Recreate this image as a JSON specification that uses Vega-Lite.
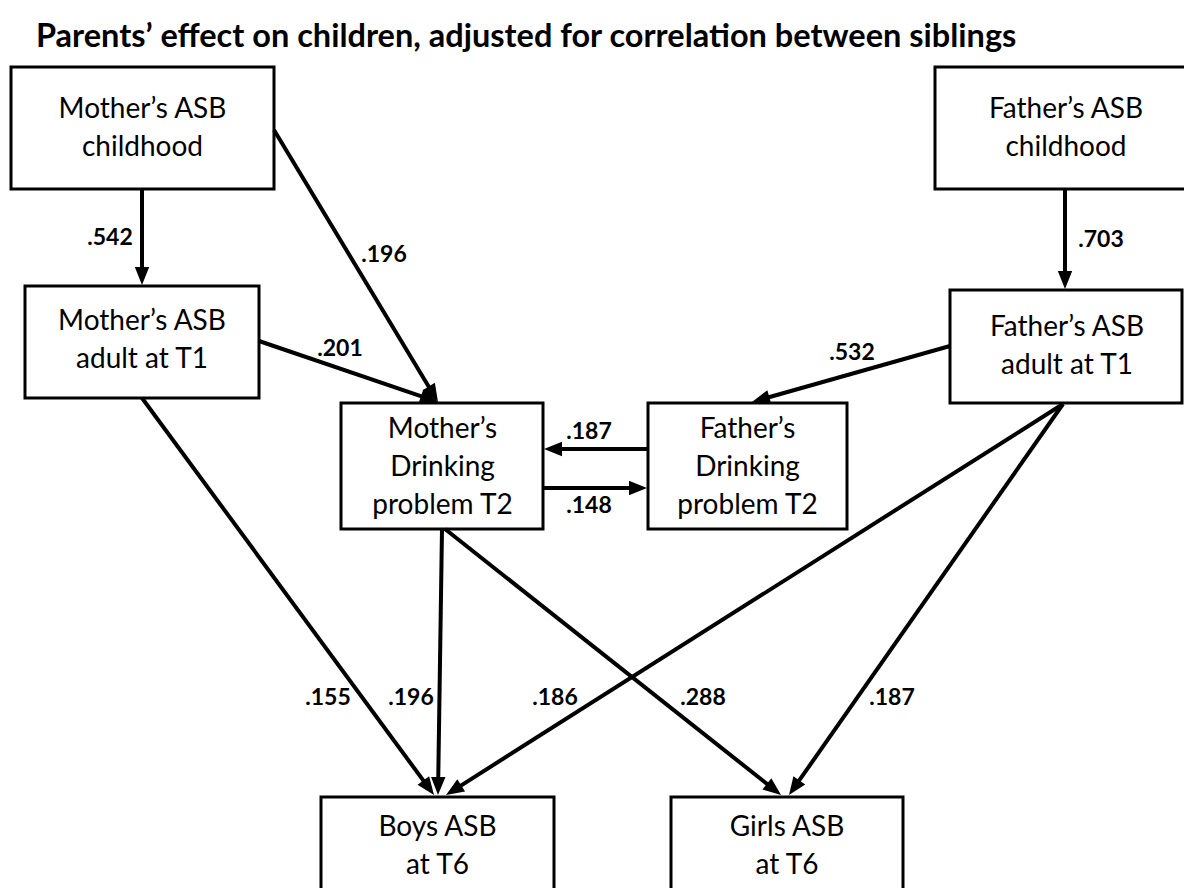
{
  "$schema": "https://vega.github.io/schema/vega-lite/v6.json",
  "width": 1184,
  "height": 888,
  "padding": 0,
  "autosize": {"type": "fit", "contains": "padding"},
  "background": "white",
  "config": {"view": {"stroke": null}},
  "datasets": {
    "boxes": [
      {"node": "Mother’s ASB childhood", "x1": 11, "x2": 274, "y1": 67, "y2": 189, "tx": 142.5, "ty": 110, "label": "Mother’s ASB\nchildhood"},
      {"node": "Father’s ASB childhood", "x1": 935, "x2": 1205, "y1": 67, "y2": 189, "tx": 1066, "ty": 110, "label": "Father’s ASB\nchildhood"},
      {"node": "Mother’s ASB adult at T1", "x1": 25, "x2": 259, "y1": 286, "y2": 398, "tx": 142, "ty": 322, "label": "Mother’s ASB\nadult at T1"},
      {"node": "Father’s ASB adult at T1", "x1": 950, "x2": 1182, "y1": 290, "y2": 403, "tx": 1067, "ty": 328, "label": "Father’s ASB\nadult at T1"},
      {"node": "Mother’s Drinking problem T2", "x1": 341, "x2": 543, "y1": 403, "y2": 529, "tx": 442.5, "ty": 430, "label": "Mother’s\nDrinking\nproblem T2"},
      {"node": "Father’s Drinking problem T2", "x1": 648, "x2": 847, "y1": 403, "y2": 529, "tx": 747.5, "ty": 430, "label": "Father’s\nDrinking\nproblem T2"},
      {"node": "Boys ASB at T6", "x1": 321, "x2": 554, "y1": 797, "y2": 905, "tx": 437.5, "ty": 828, "label": "Boys ASB\nat T6"},
      {"node": "Girls ASB at T6", "x1": 671, "x2": 903, "y1": 797, "y2": 905, "tx": 787, "ty": 828, "label": "Girls ASB\nat T6"}
    ],
    "arrows": [
      {"from": "Mother’s ASB childhood", "to": "Mother’s ASB adult at T1", "coef": ".542", "sx": 142, "sy": 189, "tx": 142, "ty": 285, "lx": 110, "ly": 238},
      {"from": "Mother’s ASB childhood", "to": "Mother’s Drinking problem T2", "coef": ".196", "sx": 274, "sy": 130, "tx": 438, "ty": 402, "lx": 384, "ly": 255},
      {"from": "Mother’s ASB adult at T1", "to": "Mother’s Drinking problem T2", "coef": ".201", "sx": 259, "sy": 341, "tx": 438, "ty": 402, "lx": 340, "ly": 349},
      {"from": "Father’s ASB childhood", "to": "Father’s ASB adult at T1", "coef": ".703", "sx": 1065, "sy": 189, "tx": 1065, "ty": 289, "lx": 1101, "ly": 240},
      {"from": "Father’s ASB adult at T1", "to": "Father’s Drinking problem T2", "coef": ".532", "sx": 950, "sy": 346, "tx": 752, "ty": 402, "lx": 852, "ly": 353},
      {"from": "Father’s Drinking problem T2", "to": "Mother’s Drinking problem T2", "coef": ".187", "sx": 648, "sy": 449, "tx": 544, "ty": 449, "lx": 589, "ly": 432},
      {"from": "Mother’s Drinking problem T2", "to": "Father’s Drinking problem T2", "coef": ".148", "sx": 543, "sy": 488, "tx": 647, "ty": 488, "lx": 589, "ly": 506},
      {"from": "Mother’s ASB adult at T1", "to": "Boys ASB at T6", "coef": ".155", "sx": 142, "sy": 398, "tx": 434, "ty": 795, "lx": 328, "ly": 698},
      {"from": "Mother’s Drinking problem T2", "to": "Boys ASB at T6", "coef": ".196", "sx": 442, "sy": 529, "tx": 438, "ty": 795, "lx": 411, "ly": 698},
      {"from": "Father’s ASB adult at T1", "to": "Boys ASB at T6", "coef": ".186", "sx": 1063, "sy": 404, "tx": 446, "ty": 795, "lx": 555, "ly": 698},
      {"from": "Mother’s Drinking problem T2", "to": "Girls ASB at T6", "coef": ".288", "sx": 445, "sy": 529, "tx": 781, "ty": 795, "lx": 703, "ly": 698},
      {"from": "Father’s ASB adult at T1", "to": "Girls ASB at T6", "coef": ".187", "sx": 1063, "sy": 404, "tx": 789, "ty": 795, "lx": 892, "ly": 698}
    ],
    "title": [
      {"text": "Parents’ effect on children, adjusted for correlation between siblings", "x": 36, "y": 47}
    ]
  },
  "layer": [
    {
      "data": {"name": "boxes"},
      "mark": {"type": "rect", "fill": "white", "stroke": "black", "strokeWidth": 3, "clip": true},
      "encoding": {
        "x": {"field": "x1", "type": "quantitative", "scale": {"domain": [0, 1184], "nice": false, "zero": false}, "axis": null},
        "x2": {"field": "x2"},
        "y": {"field": "y1", "type": "quantitative", "scale": {"domain": [0, 888], "nice": false, "zero": false, "reverse": true}, "axis": null},
        "y2": {"field": "y2"}
      }
    },
    {
      "data": {"name": "boxes"},
      "mark": {"type": "text", "font": "Lato", "fontSize": 28, "color": "black", "align": "center", "baseline": "middle", "lineBreak": "\n", "lineHeight": 38},
      "encoding": {
        "x": {"field": "tx", "type": "quantitative", "scale": {"domain": [0, 1184], "nice": false, "zero": false}, "axis": null},
        "y": {"field": "ty", "type": "quantitative", "scale": {"domain": [0, 888], "nice": false, "zero": false, "reverse": true}, "axis": null},
        "text": {"field": "label"}
      }
    },
    {
      "data": {"name": "arrows"},
      "transform": [
        {"calculate": "sqrt(pow(datum.tx - datum.sx, 2) + pow(datum.ty - datum.sy, 2))", "as": "len"},
        {"calculate": "(datum.tx - datum.sx) / datum.len", "as": "ux"},
        {"calculate": "(datum.ty - datum.sy) / datum.len", "as": "uy"},
        {"calculate": "atan2(datum.ux, -datum.uy) * 180 / PI", "as": "ang"},
        {"calculate": "datum.tx - datum.ux * 9", "as": "hx"},
        {"calculate": "datum.ty - datum.uy * 9", "as": "hy"},
        {"calculate": "datum.tx - datum.ux * 12", "as": "ex"},
        {"calculate": "datum.ty - datum.uy * 12", "as": "ey"}
      ],
      "layer": [
        {
          "mark": {"type": "rule", "color": "black", "strokeWidth": 4},
          "encoding": {
            "x": {"field": "sx", "type": "quantitative", "scale": {"domain": [0, 1184], "nice": false, "zero": false}, "axis": null},
            "y": {"field": "sy", "type": "quantitative", "scale": {"domain": [0, 888], "nice": false, "zero": false, "reverse": true}, "axis": null},
            "x2": {"field": "ex"},
            "y2": {"field": "ey"}
          }
        },
        {
          "mark": {"type": "point", "shape": "M0,-1L-0.8,1L0.8,1Z", "filled": true, "fill": "black", "opacity": 1, "strokeWidth": 0, "size": 324},
          "encoding": {
            "x": {"field": "hx", "type": "quantitative", "scale": {"domain": [0, 1184], "nice": false, "zero": false}, "axis": null},
            "y": {"field": "hy", "type": "quantitative", "scale": {"domain": [0, 888], "nice": false, "zero": false, "reverse": true}, "axis": null},
            "angle": {"field": "ang", "type": "quantitative", "scale": null}
          }
        },
        {
          "mark": {"type": "text", "font": "Lato", "fontSize": 23, "fontWeight": "bold", "color": "black", "align": "center", "baseline": "middle"},
          "encoding": {
            "x": {"field": "lx", "type": "quantitative", "scale": {"domain": [0, 1184], "nice": false, "zero": false}, "axis": null},
            "y": {"field": "ly", "type": "quantitative", "scale": {"domain": [0, 888], "nice": false, "zero": false, "reverse": true}, "axis": null},
            "text": {"field": "coef"}
          }
        }
      ]
    },
    {
      "data": {"name": "title"},
      "mark": {"type": "text", "font": "Lato", "fontSize": 32.5, "fontWeight": "bold", "color": "black", "align": "left", "baseline": "alphabetic"},
      "encoding": {
        "x": {"field": "x", "type": "quantitative", "scale": {"domain": [0, 1184], "nice": false, "zero": false}, "axis": null},
        "y": {"field": "y", "type": "quantitative", "scale": {"domain": [0, 888], "nice": false, "zero": false, "reverse": true}, "axis": null},
        "text": {"field": "text"}
      }
    }
  ]
}
